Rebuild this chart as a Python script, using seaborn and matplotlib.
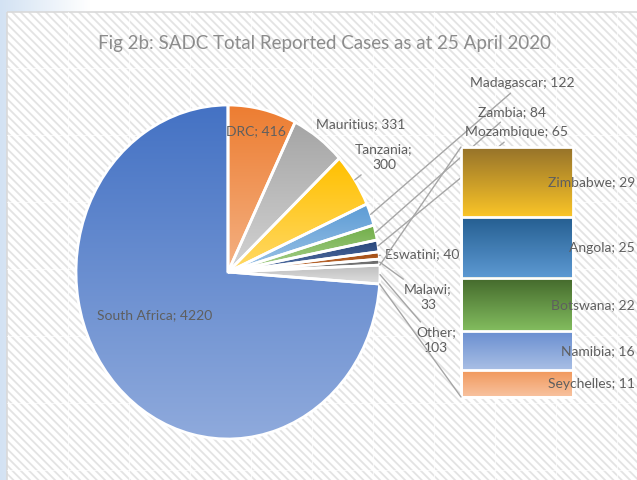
import numpy as np
import matplotlib
matplotlib.use('Agg')
import matplotlib.pyplot as plt
import matplotlib.transforms as mtransforms
from matplotlib.colors import LinearSegmentedColormap
from matplotlib.patches import Rectangle, ConnectionPatch
import seaborn as sns

# data
bar_countries = ['Zimbabwe', 'Angola', 'Botswana', 'Namibia', 'Seychelles']
bar_cases = [29, 25, 22, 16, 11]

pie_countries = ['DRC', 'Mauritius', 'Tanzania', 'Madagascar', 'Zambia',
                 'Mozambique', 'Eswatini', 'Malawi', 'Other', 'South Africa']
pie_cases = [416, 331, 300, 122, 84, 65, 40, 33, sum(bar_cases), 4220]

# gradient colours (top, bottom)
pie_colors = [('#ed7d31', '#f4b183'), ('#a5a5a5', '#d3d3d3'), ('#ffc000', '#ffd966'),
              ('#5b9bd5', '#9dc3e6'), ('#70ad47', '#a9d18e'), ('#264478', '#5673a8'),
              ('#9e480e', '#c97a45'), ('#636363', '#8e8e8e'), ('#bdbdbd', '#e0e0e0'),
              ('#4472c4', '#8faadc')]
bar_colors = [('#94712a', '#fbc527'), ('#255e91', '#5d9ad3'), ('#43682b', '#83bd5f'),
              ('#698ed0', '#a9bfe5'), ('#f1975a', '#f8c3a0')]

# label layout in pixels: (x, y, ha, leader)
pie_label_pos = {
    'DRC': (256, 131, 'center', False),
    'Mauritius': (361, 124, 'center', False),
    'Tanzania': (384, 157, 'center', True),
    'Madagascar': (470, 83, 'left', True),
    'Zambia': (478, 112, 'left', True),
    'Mozambique': (465, 132, 'left', True),
    'Eswatini': (385, 254, 'left', True),
    'Malawi': (428, 297, 'center', True),
    'Other': (436, 340, 'center', True),
    'South Africa': (155, 315, 'center', False),
}
two_line = {'Tanzania', 'Malawi', 'Other'}

sns.set_style('white')
plt.rcParams['font.family'] = ['Lato', 'DejaVu Sans']
label_color = '#5f5f5f'
line_color = '#a6a6a6'

W, H = 637, 480
fig = plt.figure(figsize=(W / 100, H / 100), dpi=100)


def fx(px):
    return px / W


def fy(py):
    return 1 - py / H


def gradient(ax, extent, top, bottom, z, clip=None):
    cmap = LinearSegmentedColormap.from_list('g', [top, bottom])
    im = ax.imshow(np.linspace(0, 1, 256).reshape(-1, 1), cmap=cmap, extent=extent,
                   origin='upper', aspect='auto', zorder=z, interpolation='bilinear')
    if clip is not None:
        im.set_clip_path(clip)
    return im


# background with hatched chart area
bg = fig.add_axes([0, 0, 1, 1], zorder=-10)
bg.axis('off')
gradient_bg = LinearSegmentedColormap.from_list('bgb', ['#d3e2f3', '#ffffff'])
bg.imshow(np.linspace(0, 1, 200)[None, :], extent=(0, 90, H, 0), cmap=gradient_bg, aspect='auto')
bg.set_xlim(0, W)
bg.set_ylim(H, 0)
plt.rcParams['hatch.linewidth'] = 1.3
bg.add_patch(Rectangle((7, 12), W, H, facecolor='white', edgecolor='#e3e3e3', lw=0, hatch='\\\\\\\\'))
for gx in range(68, W, 61):
    bg.plot([gx, gx], [12, H], color='white', lw=0.8, alpha=0.7)
for gy in range(68, H, 67):
    bg.plot([7, W], [gy, gy], color='white', lw=0.8, alpha=0.7)
bg.add_patch(Rectangle((7, 12), W, H, facecolor='none', edgecolor='#d9d9d9', lw=1.2))

fig.text(fx(325), fy(43), 'Fig 2b: SADC Total Reported Cases as at 25 April 2020',
         ha='center', va='center', fontsize=13.5, color='#8c8c8c')

# pie
cx, cy, rx, ry = 228, 272, 152, 167
ax = fig.add_axes([fx(cx - rx), fy(cy + ry), 2 * rx / W, 2 * ry / H])
wedges, _ = ax.pie(pie_cases, startangle=90, counterclock=False,
                   wedgeprops=dict(edgecolor='white', linewidth=2))
ax.set_aspect('auto')
for w, (top, bottom) in zip(wedges, pie_colors):
    ext = w.get_path().get_extents()
    gradient(ax, (ext.x0, ext.x1, ext.y0, ext.y1), top, bottom, 1, clip=w)
    w.set_facecolor('none')
    w.set_zorder(2)
    w.set_clip_on(False)
ax.set_xlim(-1, 1)
ax.set_ylim(-1, 1)


def to_pie(px, py):
    return (px - cx) / rx, (cy - py) / ry


for w, name, val in zip(wedges, pie_countries, pie_cases):
    x, y, ha, leader = pie_label_pos[name]
    sep = '\n' if name in two_line else ' '
    text = f'{name};{sep}{val}'
    mid = np.deg2rad((w.theta1 + w.theta2) / 2)
    if leader:
        ax.annotate(text, xy=(np.cos(mid), np.sin(mid)), xytext=to_pie(x, y),
                    ha=ha, va='center', fontsize=10, color=label_color,
                    linespacing=1.35, annotation_clip=False, zorder=20,
                    arrowprops=dict(arrowstyle='-', color=line_color, lw=1,
                                    shrinkA=1, shrinkB=0))
    else:
        ax.text(*to_pie(x, y), text, ha=ha, va='center', fontsize=10, color=label_color,
                zorder=20)

# stacked bar of the "Other" slice
bar_ax = fig.add_axes([fx(461), fy(397), fx(573) - fx(461), fy(147) - fy(397)])
tops = np.cumsum(bar_cases[::-1])[::-1]
for i, (name, val, top) in enumerate(zip(bar_countries, bar_cases, tops)):
    sns.barplot(x=['Other'], y=[top], width=1, color='white', edgecolor='white',
                linewidth=2, ax=bar_ax)
    p = bar_ax.patches[-1]
    p.set_facecolor('none')
    p.set_zorder(3 + i)
    p.set_clip_on(False)
    c_top, c_bottom = bar_colors[i]
    gradient(bar_ax, (-0.5, 0.5, top - val, top), c_top, c_bottom, 1)
bar_ax.set_xlim(-0.5, 0.5)
bar_ax.set_ylim(0, sum(bar_cases))
bar_ax.set_axis_off()

tr = mtransforms.blended_transform_factory(fig.transFigure, bar_ax.transData)
for name, val, top in zip(bar_countries, bar_cases, tops):
    bar_ax.text(635 / W, top - val / 2, f'{name}; {val}', transform=tr, ha='right',
                va='center', fontsize=10, color=label_color, zorder=10, clip_on=False)

# connector lines from the Other slice to the bar
other = wedges[pie_countries.index('Other')]
for ang, yb in [(max(other.theta1, other.theta2), sum(bar_cases)),
                (min(other.theta1, other.theta2), 0)]:
    a = np.deg2rad(ang)
    con = ConnectionPatch(xyA=(np.cos(a), np.sin(a)), coordsA=ax.transData,
                          xyB=(-0.5, yb), coordsB=bar_ax.transData,
                          color=line_color, lw=1)
    fig.add_artist(con)

fig.savefig('out.png', dpi=100)
